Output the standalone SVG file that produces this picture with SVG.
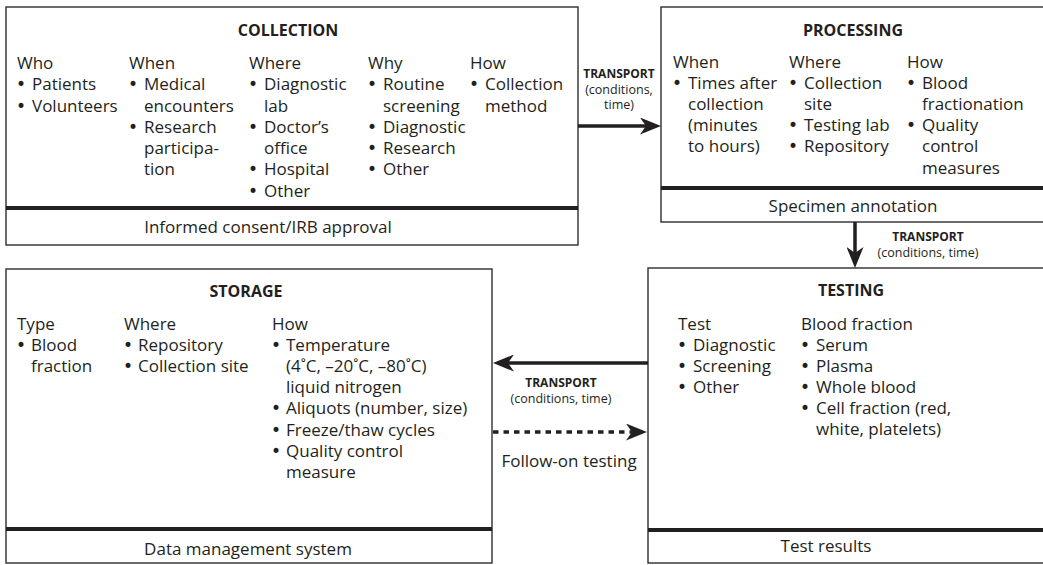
<svg xmlns="http://www.w3.org/2000/svg" width="1043" height="565" viewBox="0 0 1043 565">
  <style>
    text { font-family: "Open Sans", "Noto Sans", "Liberation Sans", sans-serif; fill: #231f20; }
    .body { font-size: 17px; }
    .b { font-family: "DejaVu Sans", sans-serif; font-size: 17px; }
    .title { font-size: 16px; font-weight: 700; text-anchor: middle; }
    .foot { font-size: 17px; text-anchor: middle; }
    .tl { font-size: 12px; font-weight: 700; text-anchor: middle; }
    .ts { font-size: 12.5px; text-anchor: middle; }
    .box { fill: #fff; stroke: #2e2e2e; stroke-width: 1.4; }
    .sep { stroke: #231f20; stroke-width: 4; }
    .flow { stroke: #231f20; stroke-width: 3.5; fill: none; }
    .dots { stroke: #231f20; stroke-width: 3.5; fill: none; stroke-dasharray: 5.5 5; }
  </style>
  <defs>
    <marker id="head" viewBox="0 0 21 17" refX="11" refY="8.5" markerWidth="21" markerHeight="17" markerUnits="userSpaceOnUse" orient="auto">
      <path d="M0,0 L21,8.5 L0,17 L6,8.5 Z" fill="#231f20"/>
    </marker>
  </defs>

  <!-- Collection -->
  <g id="collection">
    <rect class="box" x="6" y="7" width="572" height="238"/>
    <line class="sep" x1="6" y1="208" x2="578" y2="208"/>
    <text class="title" x="288" y="36">COLLECTION</text>
    <g class="body">
      <text x="17" y="69">Who</text>
      <text class="b" x="16" y="90">•</text><text x="32" y="90">Patients</text>
      <text class="b" x="16" y="112">•</text><text x="32" y="112">Volunteers</text>

      <text x="129" y="69">When</text>
      <text class="b" x="128" y="90">•</text><text x="144" y="90">Medical</text>
      <text x="144" y="112">encounters</text>
      <text class="b" x="128" y="133">•</text><text x="144" y="133">Research</text>
      <text x="144" y="154">participa-</text>
      <text x="144" y="175">tion</text>

      <text x="249" y="69">Where</text>
      <text class="b" x="248" y="90">•</text><text x="264" y="90">Diagnostic</text>
      <text x="264" y="112">lab</text>
      <text class="b" x="248" y="133">•</text><text x="264" y="133">Doctor’s</text>
      <text x="264" y="154">office</text>
      <text class="b" x="248" y="175">•</text><text x="264" y="175">Hospital</text>
      <text class="b" x="248" y="197">•</text><text x="264" y="197">Other</text>

      <text x="368" y="69">Why</text>
      <text class="b" x="367" y="90">•</text><text x="383" y="90">Routine</text>
      <text x="383" y="112">screening</text>
      <text class="b" x="367" y="133">•</text><text x="383" y="133">Diagnostic</text>
      <text class="b" x="367" y="154">•</text><text x="383" y="154">Research</text>
      <text class="b" x="367" y="175">•</text><text x="383" y="175">Other</text>

      <text x="470" y="69">How</text>
      <text class="b" x="469" y="90">•</text><text x="485" y="90">Collection</text>
      <text x="485" y="112">method</text>
    </g>
    <text class="foot" x="268" y="233">Informed consent/IRB approval</text>
  </g>

  <!-- Processing -->
  <g id="processing">
    <rect class="box" x="661" y="7" width="392" height="215"/>
    <line class="sep" x1="661" y1="188" x2="1050" y2="188"/>
    <text class="title" x="853" y="36">PROCESSING</text>
    <g class="body">
      <text x="673" y="68">When</text>
      <text class="b" x="672" y="89">•</text><text x="688" y="89">Times after</text>
      <text x="688" y="110">collection</text>
      <text x="688" y="131">(minutes</text>
      <text x="688" y="152">to hours)</text>

      <text x="789" y="68">Where</text>
      <text class="b" x="788" y="89">•</text><text x="804" y="89">Collection</text>
      <text x="804" y="110">site</text>
      <text class="b" x="788" y="131">•</text><text x="804" y="131">Testing lab</text>
      <text class="b" x="788" y="152">•</text><text x="804" y="152">Repository</text>

      <text x="907" y="68">How</text>
      <text class="b" x="906" y="89">•</text><text x="922" y="89">Blood</text>
      <text x="922" y="110">fractionation</text>
      <text class="b" x="906" y="131">•</text><text x="922" y="131">Quality</text>
      <text x="922" y="152">control</text>
      <text x="922" y="174">measures</text>
    </g>
    <text class="foot" x="853" y="212">Specimen annotation</text>
  </g>

  <!-- Storage -->
  <g id="storage">
    <rect class="box" x="6" y="269" width="486" height="294"/>
    <line class="sep" x1="6" y1="529" x2="492" y2="529"/>
    <text class="title" x="246" y="297">STORAGE</text>
    <g class="body">
      <text x="17" y="330">Type</text>
      <text class="b" x="16" y="351">•</text><text x="31" y="351">Blood</text>
      <text x="31" y="372">fraction</text>

      <text x="124" y="330">Where</text>
      <text class="b" x="123" y="351">•</text><text x="138" y="351">Repository</text>
      <text class="b" x="123" y="372">•</text><text x="138" y="372">Collection site</text>

      <text x="272" y="330">How</text>
      <text class="b" x="271" y="351">•</text><text x="286" y="351">Temperature</text>
      <text x="286" y="372">(4˚C, –20˚C, –80˚C)</text>
      <text x="286" y="393">liquid nitrogen</text>
      <text class="b" x="271" y="414">•</text><text x="286" y="414">Aliquots (number, size)</text>
      <text class="b" x="271" y="436">•</text><text x="286" y="436">Freeze/thaw cycles</text>
      <text class="b" x="271" y="457">•</text><text x="286" y="457">Quality control</text>
      <text x="286" y="478">measure</text>
    </g>
    <text class="foot" x="248" y="555">Data management system</text>
  </g>

  <!-- Testing -->
  <g id="testing">
    <rect class="box" x="648" y="268" width="405" height="295"/>
    <line class="sep" x1="648" y1="530" x2="1050" y2="530"/>
    <text class="title" x="851" y="296">TESTING</text>
    <g class="body">
      <text x="678" y="330">Test</text>
      <text class="b" x="677" y="351">•</text><text x="693" y="351">Diagnostic</text>
      <text class="b" x="677" y="372">•</text><text x="693" y="372">Screening</text>
      <text class="b" x="677" y="393">•</text><text x="693" y="393">Other</text>

      <text x="801" y="330">Blood fraction</text>
      <text class="b" x="800" y="351">•</text><text x="816" y="351">Serum</text>
      <text class="b" x="800" y="372">•</text><text x="816" y="372">Plasma</text>
      <text class="b" x="800" y="393">•</text><text x="816" y="393">Whole blood</text>
      <text class="b" x="800" y="414">•</text><text x="816" y="414">Cell fraction (red,</text>
      <text x="816" y="435">white, platelets)</text>
    </g>
    <text class="foot" x="826" y="552">Test results</text>
  </g>

  <!-- Connectors -->
  <g id="connectors">
    <line class="flow" x1="578" y1="126" x2="651" y2="126" marker-end="url(#head)"/>
    <text class="tl" x="619" y="78">TRANSPORT</text>
    <text class="ts" x="619" y="94">(conditions,</text>
    <text class="ts" x="619" y="109">time)</text>

    <line class="flow" x1="855" y1="222" x2="855" y2="258" marker-end="url(#head)"/>
    <text class="tl" x="928" y="241">TRANSPORT</text>
    <text class="ts" x="928" y="257">(conditions, time)</text>

    <line class="flow" x1="648" y1="363" x2="503" y2="363" marker-end="url(#head)"/>
    <text class="tl" x="561" y="387">TRANSPORT</text>
    <text class="ts" x="561" y="403">(conditions, time)</text>

    <line class="dots" x1="493" y1="432" x2="637" y2="432" marker-end="url(#head)"/>
    <text class="foot" x="569" y="467">Follow-on testing</text>
  </g>
</svg>
